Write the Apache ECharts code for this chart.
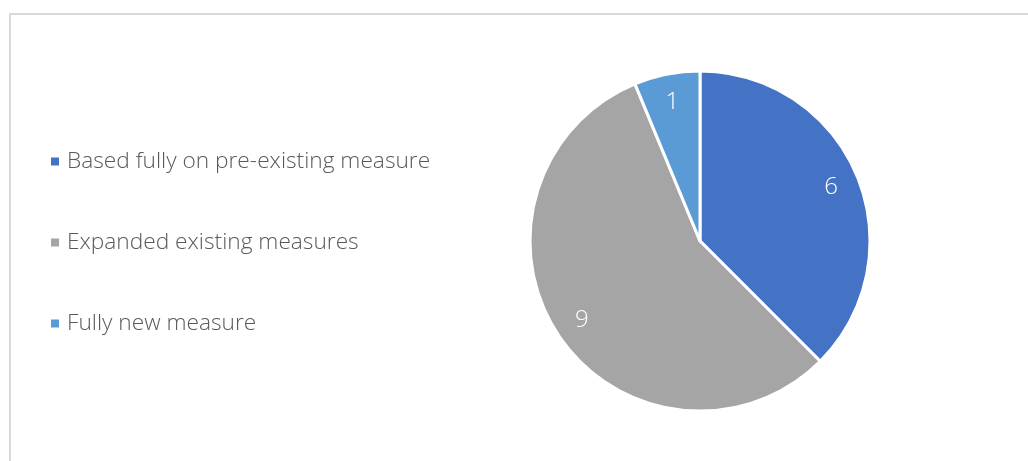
<!DOCTYPE html>
<html><head><meta charset="utf-8">
<script src="https://cdn.jsdelivr.net/npm/echarts@6/dist/echarts.min.js"></script>
<style>html,body{margin:0;padding:0;background:#fff}#c{width:1028px;height:461px}</style>
</head><body><div id="c"></div>
<script>
const categories = ['Based fully on pre-existing measure', 'Expanded existing measures', 'Fully new measure'];
const values = [6, 9, 1];
const colors = ['#4472C4', '#A5A5A5', '#5B9BD5'];

const chart = echarts.init(document.getElementById('c'));
const data = categories.map((n, i) => ({ name: n, value: values[i], itemStyle: { color: colors[i] } }));
chart.setOption({
  animation: false,
  backgroundColor: '#fff',
  graphic: [{ type: 'rect', shape: { x: 10, y: 14, width: 1100, height: 600 }, style: { fill: 'none', stroke: '#d9d9d9', lineWidth: 2 }, silent: true }],
  legend: {
    orient: 'vertical', left: 46, top: 145,
    itemWidth: 8, itemHeight: 8, itemGap: 58, icon: 'rect',
    itemStyle: { borderWidth: 0 },
    textStyle: { fontFamily: 'Open Sans', fontSize: 22.7, fontWeight: 300, color: '#595959', padding: [0, 0, 0, 3] },
    data: categories
  },
  series: [{
    type: 'pie', center: [700, 241], radius: [0, 170], startAngle: 90, clockwise: true,
    itemStyle: { borderColor: '#fff', borderWidth: 3 },
    label: { show: false }, labelLine: { show: false },
    emphasis: { disabled: true },
    data: data
  }, {
    type: 'pie', center: [700, 241], radius: [108, 170], startAngle: 90, clockwise: true,
    silent: true, legendHoverLink: false,
    itemStyle: { color: 'rgba(0,0,0,0)', borderWidth: 0 },
    label: { show: true, position: 'inside', formatter: '{c}', color: '#fff', fontFamily: 'Open Sans', fontSize: 24, fontWeight: 300 },
    labelLine: { show: false },
    emphasis: { disabled: true },
    data: categories.map((n, i) => ({ name: n + ' ', value: values[i] }))
  }]
});
</script></body></html>
